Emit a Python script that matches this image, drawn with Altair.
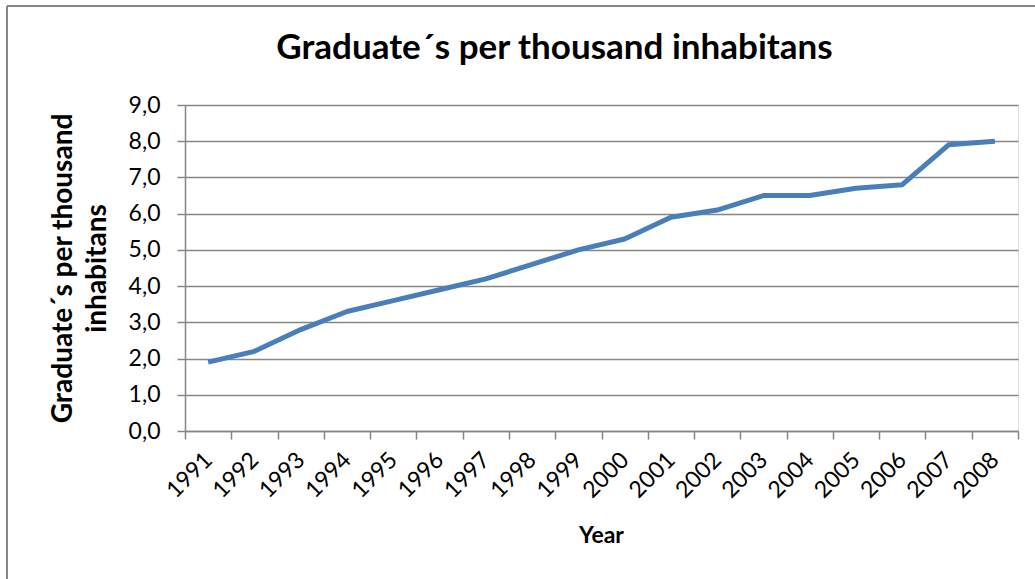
import altair as alt
import pandas as pd

years = ["1991", "1992", "1993", "1994", "1995", "1996", "1997", "1998", "1999",
         "2000", "2001", "2002", "2003", "2004", "2005", "2006", "2007", "2008"]
graduates = [1.9, 2.2, 2.8, 3.3, 3.6, 3.9, 4.2, 4.6, 5.0,
             5.3, 5.9, 6.1, 6.5, 6.5, 6.7, 6.8, 7.9, 8.0]
y_ticks = [0, 1, 2, 3, 4, 5, 6, 7, 8, 9]

df = pd.DataFrame({"Year": years, "Value": graduates})

FONT = "Lato"
GRAY = "#868686"

line = alt.Chart(df).mark_line(
    color="#4A7EBB", strokeWidth=5, strokeJoin="round", strokeCap="butt"
).encode(
    x=alt.X(
        "Year:O",
        sort=years,
        scale=alt.Scale(type="band", paddingInner=0, paddingOuter=0),
        axis=alt.Axis(
            title="Year",
            titleFont=FONT, titleFontSize=23, titleFontWeight="bold", titleColor="black",
            titleX=416, titleY=111, titleBaseline="alphabetic", titleAlign="center",
            labelFont=FONT, labelFontSize=23, labelColor="black",
            labelAngle=-45, labelAlign="right", labelBaseline="middle",
            labelPadding=17,
            tickBand="extent", tickSize=8, tickColor=GRAY, tickWidth=1.5,
            domainColor=GRAY, domainWidth=1.5, grid=False,
        ),
    ),
    y=alt.Y(
        "Value:Q",
        scale=alt.Scale(domain=[0, 9], nice=False, zero=True),
        axis=alt.Axis(
            title=["Graduate´s per thousand", "inhabitans"],
            titleFont=FONT, titleFontSize=28, titleFontWeight="bold", titleColor="black",
            titleAngle=-90, titleX=-114, titleY=163, titleAlign="center",
            titleBaseline="alphabetic", titleLineHeight=34,
            values=y_ticks,
            labelExpr="replace(format(datum.value, '.1f'), '.', ',')",
            labelFont=FONT, labelFontSize=23, labelColor="black", labelPadding=17,
            tickSize=8, tickColor=GRAY, tickWidth=1.5,
            domainColor=GRAY, domainWidth=1.5,
            grid=True, gridColor=GRAY, gridWidth=1.5,
        ),
    ),
)

border = alt.Chart(df).mark_rule(color=GRAY, strokeWidth=2).encode(
    x=alt.value(-178), x2=alt.value(-178), y=alt.value(-99), y2=alt.value(480)
) + alt.Chart(df).mark_rule(color=GRAY, strokeWidth=2).encode(
    x=alt.value(-178), x2=alt.value(860), y=alt.value(-99), y2=alt.value(-99)
)

chart = alt.layer(line, border).properties(
    width=833,
    height=326,
    autosize=alt.AutoSizeParams(type="none"),
    padding={"left": 185, "top": 105, "right": 17, "bottom": 148},
    title=alt.TitleParams(
        "Graduate´s per thousand  inhabitans",
        font=FONT, fontSize=35, fontWeight="bold", color="black",
        anchor="middle", frame="group", baseline="alphabetic", offset=47, dy=136, dx=-47,
    ),
).configure_view(stroke=None).configure(background="white")

chart.save("out.html", embed_options={"renderer": "svg", "actions": False})
